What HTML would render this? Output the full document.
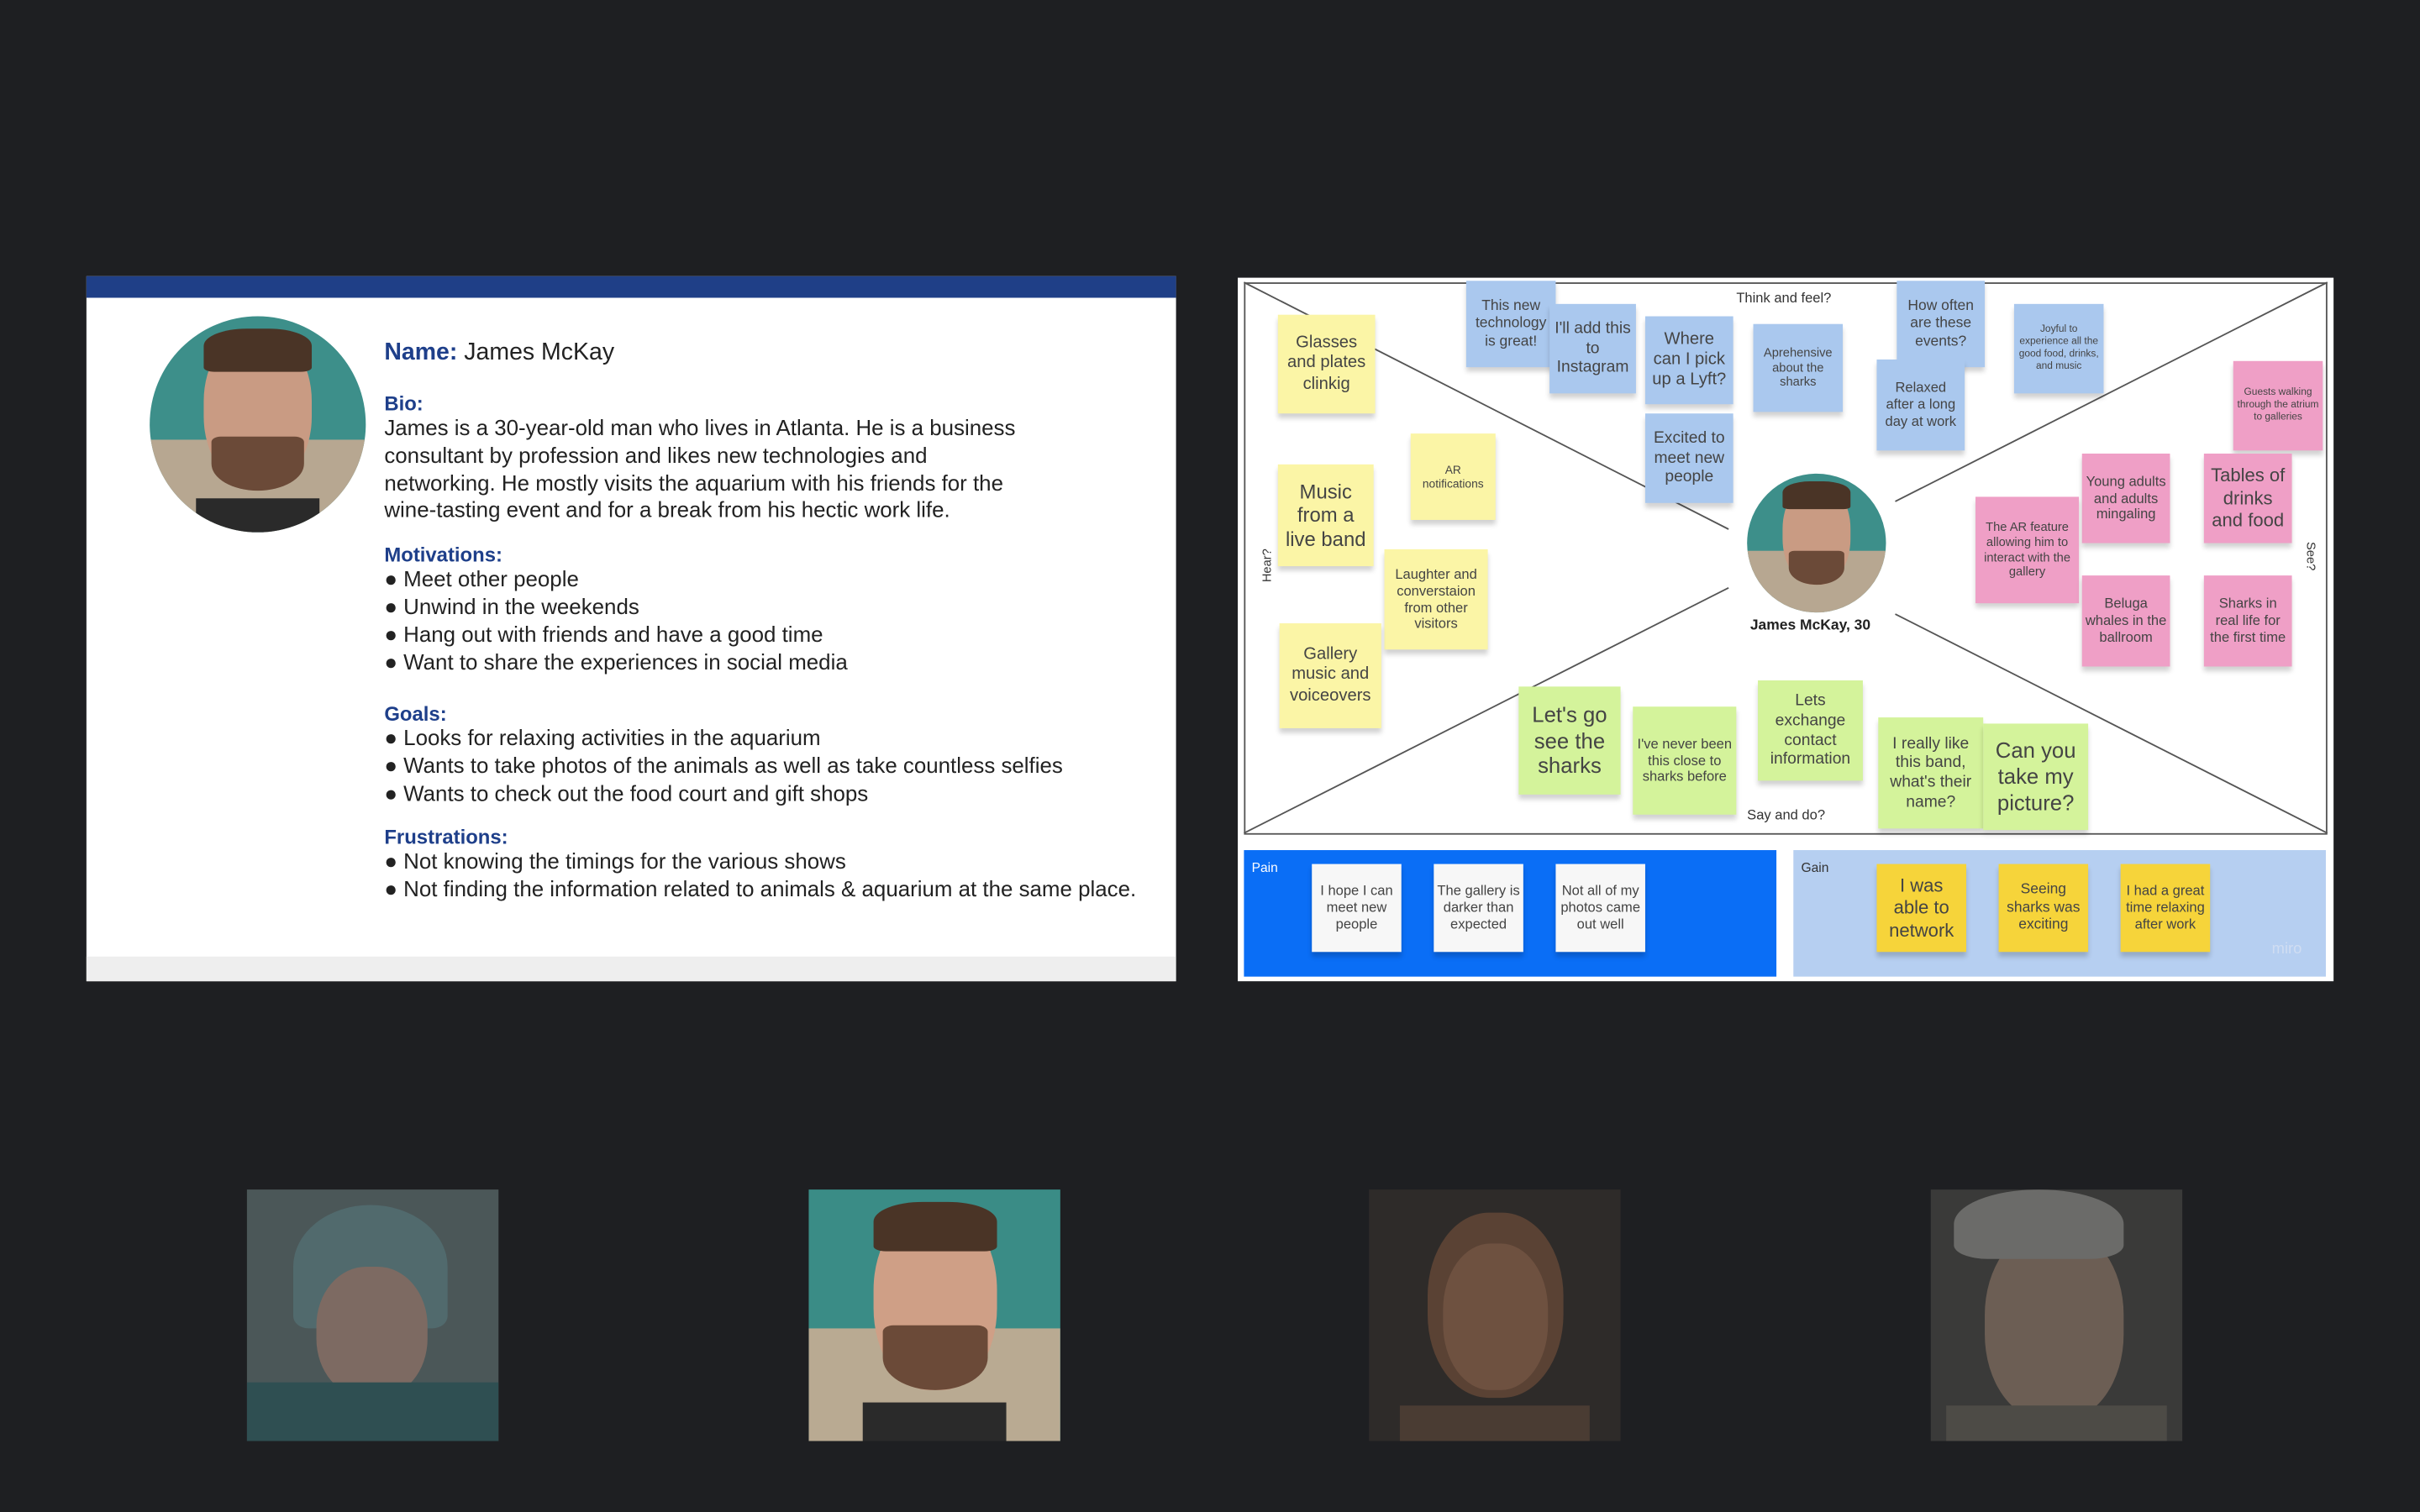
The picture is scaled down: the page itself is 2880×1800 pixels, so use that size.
<!DOCTYPE html>
<html><head><meta charset="utf-8"><style>
html,body{margin:0;padding:0;background:#1e1f22;width:2880px;height:1800px;overflow:hidden}
#w{position:absolute;left:0;top:0;width:1568px;height:980px;transform:scale(1.83673);transform-origin:0 0;font-family:"Liberation Sans",sans-serif}
.a{position:absolute}
.s{position:absolute;display:flex;align-items:center;justify-content:center;text-align:center;color:#444;font-family:"Liberation Sans",sans-serif;line-height:1.2;box-shadow:0 3px 3px rgba(0,0,0,.18);box-sizing:border-box;padding:2px}
.y{background:#fbf5a6}.b{background:#aac8ee}.p{background:#ef9fc6}.g{background:#d4f39b}.w{background:#f7f7f7}.o{background:#f6d43a}
h4{margin:0;color:#1e3f8a;font-size:13px}
.t{color:#222;font-size:14.1px;line-height:17.8px}
</style></head><body><div id="w">
<div class="a" style="left:56px;top:179px;width:706px;height:457px;background:#fff"></div>
<div class="a" style="left:56px;top:179px;width:706px;height:14px;background:#1f3f87"></div>
<div class="a" style="left:56px;top:620px;width:706px;height:16px;background:#eeeeee"></div>
<div class="a" style="left:97px;top:205px;width:140px;height:140px;border-radius:50%;overflow:hidden;background:#3d8f8a">
 <div class="a" style="left:0;top:80px;width:140px;height:60px;background:#b7a791"></div>
 <div class="a" style="left:35px;top:10px;width:70px;height:100px;border-radius:45%;background:#c99b83"></div>
 <div class="a" style="left:35px;top:8px;width:70px;height:28px;border-radius:40% 40% 10% 10%;background:#4a3426"></div>
 <div class="a" style="left:40px;top:78px;width:60px;height:35px;border-radius:10% 10% 50% 50%;background:#6b4a38"></div>
 <div class="a" style="left:30px;top:118px;width:80px;height:30px;background:#2a2a2a"></div>
</div>
<div class="a" style="left:249px;top:220px;font-size:15.5px;color:#222"><b style="color:#1e3f8a">Name:</b> James McKay</div>
<div class="a" style="left:249px;top:254px;width:520px">
<h4>Bio:</h4>
<div class="t">James is a 30-year-old man who lives in Atlanta. He is a business<br>consultant by profession and likes new technologies and<br>networking. He mostly visits the aquarium with his friends for the<br>wine-tasting event and for a break from his hectic work life.</div>
<h4 style="margin-top:12px">Motivations:</h4>
<div class="t">● Meet other people<br>● Unwind in the weekends<br>● Hang out with friends and have a good time<br>● Want to share the experiences in social media</div>
<h4 style="margin-top:17px">Goals:</h4>
<div class="t">● Looks for relaxing activities in the aquarium<br>● Wants to take photos of the animals as well as take countless selfies<br>● Wants to check out the food court and gift shops</div>
<h4 style="margin-top:11px">Frustrations:</h4>
<div class="t">● Not knowing the timings for the various shows<br>● Not finding the information related to animals &amp; aquarium at the same place.</div>
</div>
<div class="a" style="left:802px;top:180px;width:710px;height:456px;background:#fff"></div>
<svg class="a" style="left:0;top:0" width="1568" height="980">
<rect x="806.5" y="183.5" width="701" height="357" fill="none" stroke="#555" stroke-width="1"/>
<g stroke="#555" stroke-width="1">
<line x1="806" y1="183" x2="1120" y2="343"/><line x1="1508" y1="183" x2="1228" y2="325"/>
<line x1="806" y1="540" x2="1120" y2="381"/><line x1="1508" y1="540" x2="1228" y2="398"/></g>
</svg>
<div class="a" style="left:1125px;top:188px;font-size:9px;color:#333">Think and feel?</div>
<div class="a" style="left:1132px;top:523px;font-size:9px;color:#333">Say and do?</div>
<div class="a" style="left:810px;top:362px;font-size:8px;color:#333;transform:rotate(-90deg)">Hear?</div>
<div class="a" style="left:1488px;top:356px;font-size:8px;color:#333;transform:rotate(90deg)">See?</div>
<div class="a" style="left:1132px;top:307px;width:90px;height:90px;border-radius:50%;overflow:hidden;background:#3d8f8a">
 <div class="a" style="left:0;top:50px;width:90px;height:40px;background:#b7a791"></div>
 <div class="a" style="left:23px;top:6px;width:44px;height:66px;border-radius:45%;background:#c99b83"></div>
 <div class="a" style="left:23px;top:5px;width:44px;height:18px;border-radius:40% 40% 10% 10%;background:#4a3426"></div>
 <div class="a" style="left:27px;top:50px;width:36px;height:22px;border-radius:10% 10% 50% 50%;background:#6b4a38"></div>
</div>
<div class="a" style="left:1110px;top:400px;width:126px;text-align:center;font-size:9.5px;font-weight:bold;color:#222">James McKay, 30</div>
<div class="s y" style="left:828px;top:204px;width:63px;height:64px;font-size:11px">Glasses and plates clinkig</div>
<div class="s y" style="left:914px;top:281px;width:55px;height:56px;font-size:7.5px">AR notifications</div>
<div class="s y" style="left:828px;top:301px;width:62px;height:66px;font-size:13px">Music from a live band</div>
<div class="s y" style="left:897px;top:356px;width:67px;height:65px;font-size:9px">Laughter and converstaion from other visitors</div>
<div class="s y" style="left:829px;top:404px;width:66px;height:68px;font-size:11px">Gallery music and voiceovers</div>
<div class="s b" style="left:950px;top:182px;width:58px;height:56px;font-size:9.5px">This new technology is great!</div>
<div class="s b" style="left:1004px;top:197px;width:56px;height:58px;font-size:10.5px">I'll add this to Instagram</div>
<div class="s b" style="left:1066px;top:205px;width:57px;height:57px;font-size:11px">Where can I pick up a Lyft?</div>
<div class="s b" style="left:1066px;top:268px;width:57px;height:58px;font-size:10.5px">Excited to meet new people</div>
<div class="s b" style="left:1136px;top:210px;width:58px;height:57px;font-size:8px">Aprehensive about the sharks</div>
<div class="s b" style="left:1229px;top:182px;width:57px;height:56px;font-size:9.5px">How often are these events?</div>
<div class="s b" style="left:1216px;top:233px;width:57px;height:59px;font-size:9px">Relaxed after a long day at work</div>
<div class="s b" style="left:1305px;top:197px;width:58px;height:58px;font-size:6.5px">Joyful to experience all the good food, drinks, and music</div>
<div class="s p" style="left:1447px;top:234px;width:58px;height:58px;font-size:6.5px">Guests walking through the atrium to galleries</div>
<div class="s p" style="left:1349px;top:294px;width:57px;height:58px;font-size:9px">Young adults and adults mingaling</div>
<div class="s p" style="left:1428px;top:294px;width:57px;height:58px;font-size:12px">Tables of drinks and food</div>
<div class="s p" style="left:1280px;top:322px;width:67px;height:69px;font-size:8px">The AR feature allowing him to interact with the gallery</div>
<div class="s p" style="left:1349px;top:373px;width:57px;height:59px;font-size:9px">Beluga whales in the ballroom</div>
<div class="s p" style="left:1428px;top:373px;width:57px;height:59px;font-size:9px">Sharks in real life for the first time</div>
<div class="s g" style="left:984px;top:445px;width:66px;height:70px;font-size:14px">Let's go see the sharks</div>
<div class="s g" style="left:1058px;top:458px;width:67px;height:70px;font-size:9px">I've never been this close to sharks before</div>
<div class="s g" style="left:1139px;top:441px;width:68px;height:65px;font-size:10.5px">Lets exchange contact information</div>
<div class="s g" style="left:1217px;top:465px;width:68px;height:72px;font-size:10.5px">I really like this band, what's their name?</div>
<div class="s g" style="left:1285px;top:469px;width:68px;height:69px;font-size:14px">Can you take my picture?</div>
<div class="a" style="left:806px;top:551px;width:345px;height:82px;background:#0a6ef6"></div>
<div class="a" style="left:811px;top:557px;font-size:8.5px;color:#fff">Pain</div>
<div class="s w" style="left:850px;top:560px;width:58px;height:57px;font-size:9px">I hope I can meet new people</div>
<div class="s w" style="left:929px;top:560px;width:58px;height:57px;font-size:9px">The gallery is darker than expected</div>
<div class="s w" style="left:1008px;top:560px;width:58px;height:57px;font-size:9px">Not all of my photos came out well</div>
<div class="a" style="left:1162px;top:551px;width:345px;height:82px;background:#b6cff1"></div>
<div class="a" style="left:1167px;top:557px;font-size:8.5px;color:#333">Gain</div>
<div class="s o" style="left:1216px;top:560px;width:58px;height:57px;font-size:12px">I was able to network</div>
<div class="s o" style="left:1295px;top:560px;width:58px;height:57px;font-size:9.5px">Seeing sharks was exciting</div>
<div class="s o" style="left:1374px;top:560px;width:58px;height:57px;font-size:9px">I had a great time relaxing after work</div>
<div class="a" style="left:1472px;top:610px;font-size:10px;color:#d0ddf2">miro</div>
<div class="a" style="left:160px;top:771px;width:163px;height:163px;background:#4b5758;overflow:hidden">
 <div class="a" style="left:30px;top:10px;width:100px;height:80px;border-radius:50% 50% 10% 10%;background:#516a6d"></div>
 <div class="a" style="left:45px;top:50px;width:72px;height:85px;border-radius:45%;background:#7d6a62"></div>
 <div class="a" style="left:0;top:125px;width:163px;height:40px;background:#2f4f52"></div>
</div>
<div class="a" style="left:524px;top:771px;width:163px;height:163px;background:#3a8c86;overflow:hidden">
 <div class="a" style="left:0;top:90px;width:163px;height:73px;background:#b9aa92"></div>
 <div class="a" style="left:42px;top:12px;width:80px;height:118px;border-radius:45%;background:#cf9f86"></div>
 <div class="a" style="left:42px;top:8px;width:80px;height:32px;border-radius:40% 40% 10% 10%;background:#4a3426"></div>
 <div class="a" style="left:48px;top:88px;width:68px;height:42px;border-radius:10% 10% 50% 50%;background:#6b4a38"></div>
 <div class="a" style="left:35px;top:138px;width:93px;height:30px;background:#2a2a2a"></div>
</div>
<div class="a" style="left:887px;top:771px;width:163px;height:163px;background:#2e2b29;overflow:hidden">
 <div class="a" style="left:38px;top:15px;width:88px;height:120px;border-radius:45%;background:#5a4234"></div>
 <div class="a" style="left:48px;top:35px;width:68px;height:95px;border-radius:45%;background:#6e5140"></div>
 <div class="a" style="left:20px;top:140px;width:123px;height:30px;background:#4a3c33"></div>
</div>
<div class="a" style="left:1251px;top:771px;width:163px;height:163px;background:#3a3a39;overflow:hidden">
 <div class="a" style="left:35px;top:25px;width:90px;height:125px;border-radius:45%;background:#6c5e54"></div>
 <div class="a" style="left:15px;top:0;width:110px;height:45px;border-radius:50% 50% 20% 20%;background:#6b6b69"></div>
 <div class="a" style="left:10px;top:140px;width:143px;height:30px;background:#4d4b46"></div>
</div>
</div></body></html>
